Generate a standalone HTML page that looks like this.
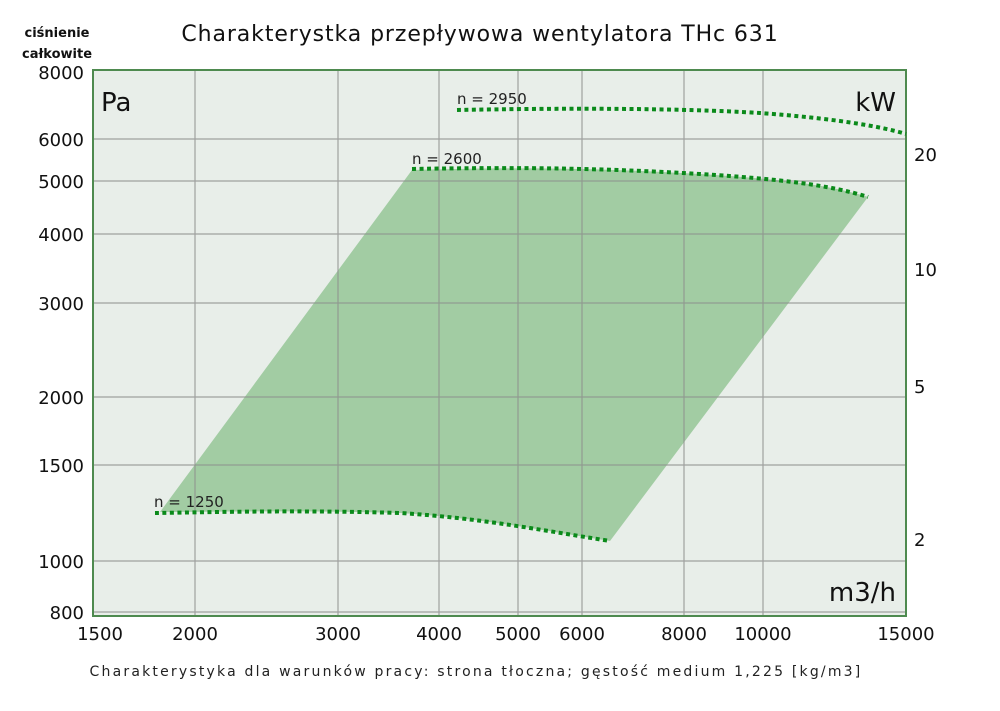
<!DOCTYPE html>
<html><head><meta charset="utf-8"><style>
body{margin:0;background:#fff;}
svg text{font-family:"DejaVu Sans","Liberation Sans",sans-serif;}
</style></head><body>
<svg width="1000" height="706" viewBox="0 0 1000 706" xmlns="http://www.w3.org/2000/svg">
<rect x="0" y="0" width="1000" height="706" fill="#fff"/>
<rect x="93" y="70" width="813" height="546" fill="#e8eee9"/>
<path d="M160,512 L412,170 C520,167 600,168 700,174 C780,179 830,185 868,197 L610,541 C540,530 480,518 400,513 C300,510 220,512 160,512 Z" fill="#a2cca3"/>
<g stroke="#8d8f8d" stroke-width="1.2" opacity="0.8">
<line x1="195" y1="70" x2="195" y2="616"/>
<line x1="338" y1="70" x2="338" y2="616"/>
<line x1="439" y1="70" x2="439" y2="616"/>
<line x1="518" y1="70" x2="518" y2="616"/>
<line x1="582" y1="70" x2="582" y2="616"/>
<line x1="684" y1="70" x2="684" y2="616"/>
<line x1="763" y1="70" x2="763" y2="616"/>
<line x1="93" y1="139" x2="906" y2="139"/>
<line x1="93" y1="181" x2="906" y2="181"/>
<line x1="93" y1="234" x2="906" y2="234"/>
<line x1="93" y1="303" x2="906" y2="303"/>
<line x1="93" y1="397" x2="906" y2="397"/>
<line x1="93" y1="465" x2="906" y2="465"/>
<line x1="93" y1="561" x2="906" y2="561"/>
<line x1="93" y1="612" x2="906" y2="612"/>
</g>
<rect x="93" y="70" width="813" height="546" fill="none" stroke="#4e8a4f" stroke-width="2"/>
<g fill="none" stroke="#0a8a1a" stroke-width="4" stroke-dasharray="4 3.5">
<path d="M457,110 C560,108 680,108 760,113 C830,118 880,126 906,134"/>
<path d="M412,169 C520,167 600,168 700,174 C780,179 830,185 868,197"/>
<path d="M155,513 C220,512 300,510 400,513 C480,518 540,530 610,541"/>
</g>
<g font-size="15" fill="#222">
<text x="457" y="104">n = 2950</text>
<text x="412" y="164">n = 2600</text>
<text x="154" y="507">n = 1250</text>
</g>
<text x="101" y="111" font-size="26" fill="#111">Pa</text>
<text x="896" y="111" font-size="26" fill="#111" text-anchor="end">kW</text>
<text x="896" y="601" font-size="26" fill="#111" text-anchor="end">m3/h</text>
<text x="480" y="41" font-size="22" fill="#111" text-anchor="middle" letter-spacing="0.9">Charakterystka przepływowa wentylatora THc 631</text>
<text x="57" y="37" font-size="13" font-weight="bold" fill="#111" text-anchor="middle">ciśnienie</text>
<text x="57" y="58" font-size="13" font-weight="bold" fill="#111" text-anchor="middle">całkowite</text>
<g font-size="18" fill="#111" text-anchor="end">
<text x="84" y="79">8000</text>
<text x="84" y="146">6000</text>
<text x="84" y="188">5000</text>
<text x="84" y="241">4000</text>
<text x="84" y="310">3000</text>
<text x="84" y="404">2000</text>
<text x="84" y="472">1500</text>
<text x="84" y="568">1000</text>
<text x="84" y="619">800</text>
</g>
<g font-size="18" fill="#111">
<text x="914" y="161">20</text>
<text x="914" y="276">10</text>
<text x="914" y="393">5</text>
<text x="914" y="546">2</text>
</g>
<g font-size="18" fill="#111" text-anchor="middle">
<text x="100" y="640">1500</text>
<text x="195" y="640">2000</text>
<text x="338" y="640">3000</text>
<text x="439" y="640">4000</text>
<text x="518" y="640">5000</text>
<text x="582" y="640">6000</text>
<text x="684" y="640">8000</text>
<text x="763" y="640">10000</text>
<text x="906" y="640">15000</text>
</g>
<text x="476" y="676" font-size="14" fill="#222" text-anchor="middle" letter-spacing="2.2">Charakterystyka dla warunków pracy: strona tłoczna; gęstość medium 1,225 [kg/m3]</text>
</svg>
</body></html>
